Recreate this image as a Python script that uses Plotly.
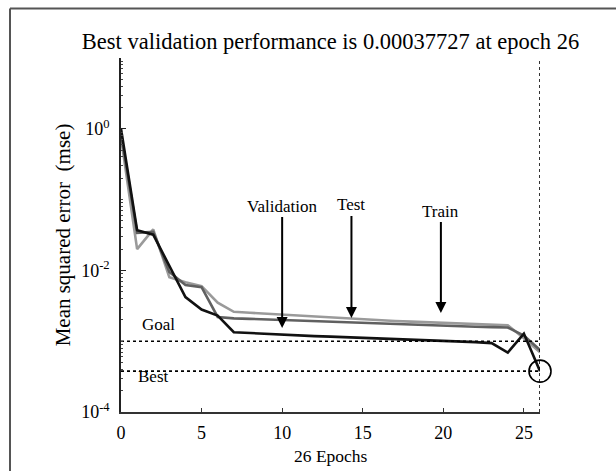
import numpy as np
import plotly.graph_objects as go

# ---------------- data ----------------
epochs = list(range(27))
train_mse = [0.75, 0.020, 0.038, 0.0080, 0.0068, 0.0060, 0.0035, 0.0026,
             0.00252, 0.00244, 0.00236, 0.00229, 0.00222, 0.00215, 0.00209,
             0.00203, 0.00198, 0.00193, 0.00189, 0.00185, 0.00181, 0.00177,
             0.00174, 0.00171, 0.00168, 0.0011, 0.0007]
test_mse = [0.85, 0.034, 0.035, 0.0095, 0.0062, 0.0058, 0.0022, 0.0021,
            0.00207, 0.00203, 0.00199, 0.00195, 0.00191, 0.00187, 0.00184,
            0.00181, 0.00178, 0.00175, 0.00172, 0.00169, 0.00166, 0.00163,
            0.00160, 0.00158, 0.00156, 0.0012, 0.00075]
validation_mse = [1.0, 0.037, 0.032, 0.0115, 0.0042, 0.0028, 0.0023, 0.00134,
                  0.00130, 0.00127, 0.00124, 0.00121, 0.00118, 0.00116, 0.00114,
                  0.00112, 0.00110, 0.00108, 0.00105, 0.00103, 0.00101, 0.00099,
                  0.00097, 0.00094, 0.00069, 0.00128, 0.00037727]
goal_mse = 1e-3
best_mse = 0.00037727
best_epoch = 26
x_tick_vals = [0, 5, 10, 15, 20, 25]
y_tick_vals = [1e-4, 1e-2, 1]
y_tick_text = ["10<sup>-4</sup>", "10<sup>-2</sup>", "10<sup>0</sup>"]
title_text = "Best validation performance is 0.00037727 at epoch 26"
x_title = "26 Epochs"
y_title = "Mean squared error&nbsp; (mse)"

# arrow labels: (text, epoch, tip value, text value)
arrow_labels = [
    ("Validation", 10.0, 0.00154, 0.081),
    ("Test", 14.3, 0.00213, 0.084),
    ("Train", 19.85, 0.00251, 0.069),
]

FONT = "Liberation Serif, Times New Roman, serif"

fig = go.Figure()

fig.add_trace(go.Scatter(x=epochs, y=train_mse, mode="lines",
                         line=dict(color="#9a9a9a", width=2.6), name="Train"))
fig.add_trace(go.Scatter(x=epochs, y=test_mse, mode="lines",
                         line=dict(color="#606060", width=2.6), name="Test"))
fig.add_trace(go.Scatter(x=epochs, y=validation_mse, mode="lines",
                         line=dict(color="#111111", width=2.6), name="Validation"))

# goal and best horizontal dotted lines
fig.add_trace(go.Scatter(x=[0, best_epoch], y=[goal_mse, goal_mse], mode="lines",
                         line=dict(color="black", width=1.6, dash="dot")))
fig.add_trace(go.Scatter(x=[0, best_epoch], y=[best_mse, best_mse], mode="lines",
                         line=dict(color="black", width=1.6, dash="dot")))
# vertical dotted line at best epoch
fig.add_trace(go.Scatter(x=[best_epoch, best_epoch], y=[1e-4, 10], mode="lines",
                         line=dict(color="black", width=1.6, dash="dot"),
                         cliponaxis=False))
# best point circle
fig.add_trace(go.Scatter(x=[best_epoch], y=[best_mse], mode="markers",
                         marker=dict(symbol="circle-open", size=22, color="black",
                                     line=dict(color="black", width=1.6)),
                         cliponaxis=False))

annotations = []
for text, ep, tip, tv in arrow_labels:
    annotations.append(dict(
        x=ep, y=np.log10(tip), xref="x", yref="y",
        ax=ep, ay=np.log10(tv), axref="x", ayref="y",
        text=text, showarrow=True, arrowhead=2, arrowsize=1.1,
        arrowwidth=2, arrowcolor="black", standoff=0,
        font=dict(family=FONT, size=17, color="black"),
    ))

annotations.append(dict(x=1.15, y=np.log10(goal_mse), xref="x", yref="y",
                        text="Goal", showarrow=False, xanchor="left",
                        yanchor="bottom", yshift=5,
                        font=dict(family=FONT, size=17, color="black")))
annotations.append(dict(x=0.95, y=np.log10(best_mse), xref="x", yref="y",
                        text="Best", showarrow=False, xanchor="left",
                        yanchor="top", yshift=6,
                        font=dict(family=FONT, size=17, color="black")))
annotations.append(dict(x=0.5, y=-0.123, xref="paper", yref="paper",
                        text=x_title, showarrow=False, xanchor="center",
                        yanchor="middle",
                        font=dict(family=FONT, size=17.5, color="black")))

minor_vals = [m * 10.0 ** k for k in range(-4, 1) for m in range(1, 10)] + [10]

fig.update_layout(
    width=616, height=471,
    margin=dict(l=121, r=76, t=58, b=59, autoexpand=False),
    paper_bgcolor="white", plot_bgcolor="white",
    showlegend=False,
    title=dict(text=title_text, x=0.5, xanchor="center", xref="paper",
               y=1 - 41 / 471, yanchor="middle", yref="container",
               font=dict(family=FONT, size=22.5, color="black")),
    xaxis=dict(range=[0, 26], showgrid=False, zeroline=False, automargin=False,
               showline=True, linecolor="#333333", linewidth=1.5,
               ticks="inside", ticklen=4, tickcolor="#333333",
               tickvals=x_tick_vals, ticklabelstandoff=4,
               tickfont=dict(family=FONT, size=18, color="black")),
    yaxis=dict(type="log", range=[-4, 1], showgrid=False, zeroline=False,
               automargin=False,
               showline=True, linecolor="#222222", linewidth=1.5,
               ticks="inside", ticklen=5, tickcolor="#222222",
               tickvals=y_tick_vals, ticktext=y_tick_text, ticklabelstandoff=6,
               minor=dict(ticks="inside", ticklen=2.5, tickvals=minor_vals,
                          tickcolor="#444444"),
               tickfont=dict(family=FONT, size=18, color="black"),
               title=dict(text=y_title, standoff=5,
                          font=dict(family=FONT, size=21, color="black"))),
    annotations=annotations,
    shapes=[
        dict(type="line", xref="paper", yref="paper",
             x0=(10 - 121) / 419, x1=(630 - 121) / 419,
             y0=(413 - 9.5) / 354, y1=(413 - 9.5) / 354,
             line=dict(color="#555555", width=2)),
        dict(type="line", xref="paper", yref="paper",
             x0=(10 - 121) / 419, x1=(10 - 121) / 419,
             y0=(413 - 9.5) / 354, y1=(413 - 480) / 354,
             line=dict(color="#555555", width=2)),
    ],
)

fig.write_html("out.html",
               config={"displayModeBar": False},
               post_script="document.body.style.margin='0';"
                           "document.body.style.overflow='hidden';")
